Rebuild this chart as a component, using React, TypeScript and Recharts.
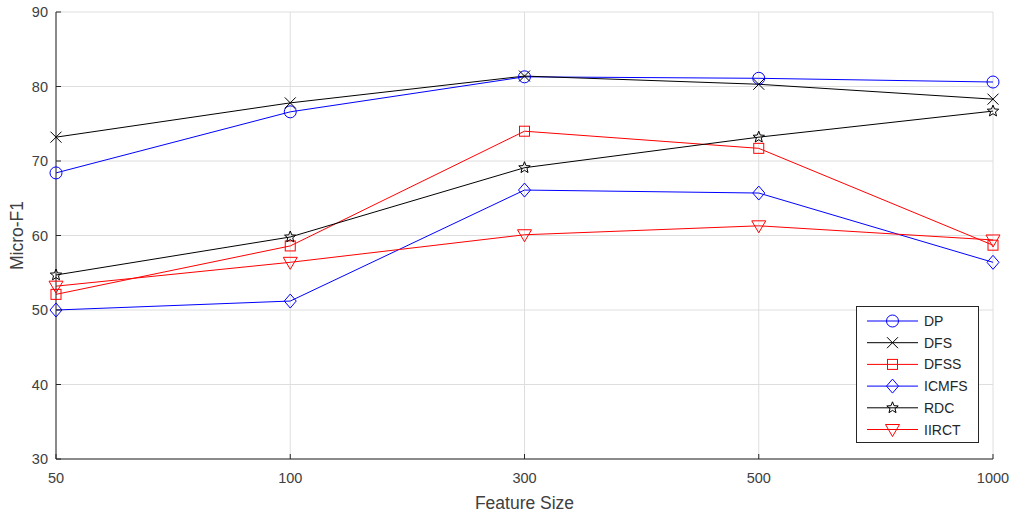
import React from 'react';
import { LineChart, Line, XAxis, YAxis, CartesianGrid, Legend, Label } from 'recharts';

const featureSizes = ['50', '100', '300', '500', '1000'];
const dpValues = [68.4, 76.6, 81.3, 81.1, 80.6];
const dfsValues = [73.2, 77.8, 81.4, 80.3, 78.3];
const dfssValues = [52.1, 58.6, 74.0, 71.7, 58.7];
const icmfsValues = [50.0, 51.2, 66.1, 65.7, 56.4];
const rdcValues = [54.7, 59.8, 69.1, 73.2, 76.7];
const iirctValues = [53.2, 56.4, 60.1, 61.3, 59.4];
const yTicks = [30, 40, 50, 60, 70, 80, 90];

type MarkerKind = 'circle' | 'x' | 'square' | 'diamond' | 'star' | 'tri';

const seriesDefs: { key: string; name: string; color: string; marker: MarkerKind; values: number[] }[] = [
  { key: 'dp', name: 'DP', color: '#0000ff', marker: 'circle', values: dpValues },
  { key: 'dfs', name: 'DFS', color: '#000000', marker: 'x', values: dfsValues },
  { key: 'dfss', name: 'DFSS', color: '#ff0000', marker: 'square', values: dfssValues },
  { key: 'icmfs', name: 'ICMFS', color: '#0000ff', marker: 'diamond', values: icmfsValues },
  { key: 'rdc', name: 'RDC', color: '#000000', marker: 'star', values: rdcValues },
  { key: 'iirct', name: 'IIRCT', color: '#ff0000', marker: 'tri', values: iirctValues },
];

const data = featureSizes.map((s, i) => {
  const row: Record<string, string | number> = { size: s };
  seriesDefs.forEach((d) => {
    row[d.key] = d.values[i];
  });
  return row;
});

function Marker({ kind, cx, cy, color }: { kind: MarkerKind; cx: number; cy: number; color: string }) {
  const common = { fill: 'none', stroke: color, strokeWidth: 1 };
  switch (kind) {
    case 'circle':
      return <circle cx={cx} cy={cy} r={6} {...common} />;
    case 'x':
      return (
        <g {...common}>
          <line x1={cx - 5.5} y1={cy - 5.5} x2={cx + 5.5} y2={cy + 5.5} />
          <line x1={cx - 5.5} y1={cy + 5.5} x2={cx + 5.5} y2={cy - 5.5} />
        </g>
      );
    case 'square':
      return <rect x={cx - 5} y={cy - 5} width={10} height={10} {...common} />;
    case 'diamond':
      return <polygon points={`${cx},${cy - 7} ${cx + 6},${cy} ${cx},${cy + 7} ${cx - 6},${cy}`} {...common} />;
    case 'star': {
      const pts: string[] = [];
      for (let i = 0; i < 10; i++) {
        const r = i % 2 === 0 ? 6 : 2.6;
        const a = -Math.PI / 2 + (i * Math.PI) / 5;
        pts.push(`${cx + r * Math.cos(a)},${cy + r * Math.sin(a)}`);
      }
      return <polygon points={pts.join(' ')} {...common} />;
    }
    case 'tri':
      return <polygon points={`${cx - 7},${cy - 5} ${cx + 7},${cy - 5} ${cx},${cy + 7}`} {...common} />;
  }
  return null;
}

const axisColor = '#262626';
const tickStyle = { fontFamily: 'Liberation Sans, Arial, sans-serif', fontSize: 14.5, fill: '#404040' };

const EmptyTick = () => <g />;

function LegendBox() {
  const rowH = 21.7;
  return (
    <svg width={124} height={138} style={{ display: 'block' }}>
      <rect x={0.5} y={0.5} width={122} height={136} fill="#ffffff" stroke={axisColor} strokeWidth={1} />
      {seriesDefs.map((d, i) => {
        const y = 15 + i * rowH;
        return (
          <g key={d.key}>
            <line x1={11} x2={62} y1={y} y2={y} stroke={d.color} strokeWidth={1} />
            <Marker kind={d.marker} cx={36.5} cy={y} color={d.color} />
            <text
              x={68}
              y={y + 5}
              fontFamily="Liberation Sans, Arial, sans-serif"
              fontSize={14}
              fill="#262626"
            >
              {d.name}
            </text>
          </g>
        );
      })}
    </svg>
  );
}

export default function App() {
  return (
    <div style={{ position: 'absolute', left: 0, top: 0, width: 1015, height: 515, background: '#ffffff' }}>
      <LineChart
        width={1015}
        height={515}
        data={data}
        margin={{ top: 12, right: 22, bottom: 26, left: 16 }}
      >
        <CartesianGrid stroke="#dedede" strokeWidth={1} />
        <XAxis
          dataKey="size"
          scale="point"
          padding={{ left: 0, right: 0 }}
          height={30}
          stroke={axisColor}
          tickSize={-5}
          tickMargin={19}
          tick={tickStyle}
          interval={0}
        >
          <Label
            content={({ viewBox }: any) => (
              <text
                x={viewBox.x + viewBox.width / 2}
                y={503}
                textAnchor="middle"
                dominantBaseline="central"
                fontFamily="Liberation Sans, Arial, sans-serif"
                fontSize={17.5}
                fill="#404040"
              >
                Feature Size
              </text>
            )}
          />
        </XAxis>
        <XAxis
          xAxisId="top"
          dataKey="size"
          orientation="top"
          scale="point"
          padding={{ left: 0, right: 0 }}
          height={0}
          stroke={axisColor}
          tickSize={-5}
          tick={EmptyTick}
          interval={0}
        />
        <YAxis
          domain={[30, 90]}
          ticks={yTicks}
          type="number"
          width={40}
          stroke={axisColor}
          tickSize={-5}
          tickMargin={13}
          tick={tickStyle}
          interval={0}
        >
          <Label
            content={({ viewBox }: any) => {
              const cx = 17;
              const cy = viewBox.y + viewBox.height / 2;
              return (
                <text
                  x={cx}
                  y={cy}
                  transform={`rotate(-90, ${cx}, ${cy})`}
                  textAnchor="middle"
                  dominantBaseline="central"
                  fontFamily="Liberation Sans, Arial, sans-serif"
                  fontSize={17.5}
                  fill="#404040"
                >
                  Micro-F1
                </text>
              );
            }}
          />
        </YAxis>
        <YAxis
          yAxisId="right"
          orientation="right"
          domain={[30, 90]}
          ticks={yTicks}
          type="number"
          width={0}
          stroke={axisColor}
          tickSize={-5}
          tick={EmptyTick}
          interval={0}
        />
        {seriesDefs.map((d) => (
          <Line
            key={d.key}
            dataKey={d.key}
            name={d.name}
            stroke={d.color}
            strokeWidth={1}
            isAnimationActive={false}
            dot={(p: any) => (
              <Marker key={`${d.key}-${p.index}`} kind={d.marker} cx={p.cx} cy={p.cy} color={d.color} />
            )}
            activeDot={false}
          />
        ))}
        <Legend
          layout="horizontal"
          align="center"
          verticalAlign="middle"
          wrapperStyle={{ position: 'absolute', left: 856, top: 306, width: 124, height: 138 }}
          content={() => <LegendBox />}
        />
      </LineChart>
    </div>
  );
}
